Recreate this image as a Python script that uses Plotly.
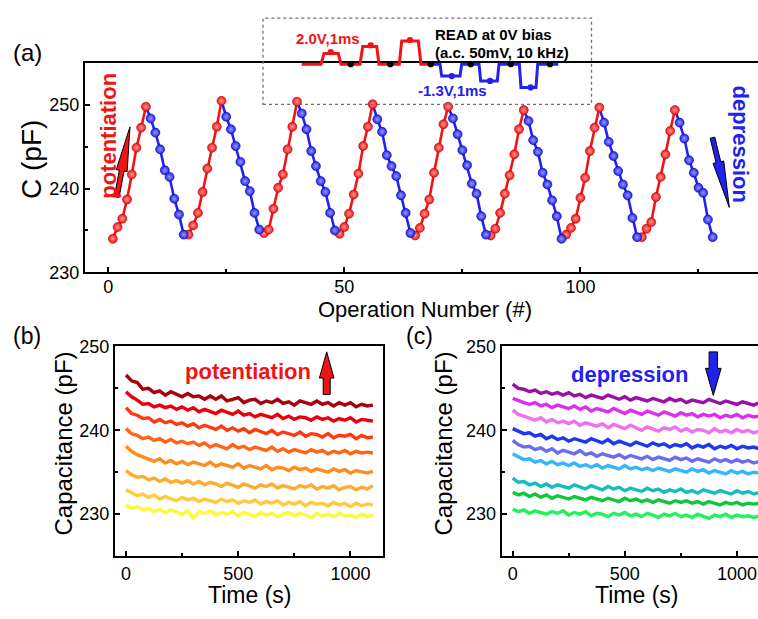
import math
import plotly.graph_objects as go

# ---------------- data: panel (a) ----------------
operation = list(range(1, 129))
capacitance_a = [
    234.0, 235.4, 236.4, 238.7, 241.7, 244.9, 247.3, 249.8,
    248.4, 246.7, 244.7, 242.2, 241.4, 238.8, 236.9, 234.5,
    234.5, 235.6, 237.1, 239.6, 242.4, 244.9, 247.4, 250.5,
    248.6, 247.1, 245.1, 243.2, 240.9, 239.7, 237.1, 235.1,
    234.7, 235.1, 237.6, 240.1, 241.7, 244.7, 247.4, 250.4,
    249.0, 247.1, 244.5, 242.7, 240.9, 239.6, 237.1, 235.0,
    234.6, 235.4, 237.0, 239.3, 241.8, 245.1, 247.4, 250.1,
    248.3, 246.8, 244.0, 242.7, 241.5, 239.2, 237.1, 234.7,
    234.4, 235.3, 237.0, 238.7, 241.9, 244.9, 247.7, 249.8,
    248.4, 246.5, 244.6, 242.8, 240.6, 239.4, 236.7, 234.5,
    234.4, 235.2, 237.1, 239.4, 241.6, 244.1, 247.1, 249.4,
    248.1, 245.8, 244.4, 241.9, 240.5, 238.6, 236.7, 234.0,
    234.5, 235.3, 236.4, 238.9, 241.3, 244.5, 247.3, 249.7,
    247.9, 245.6, 243.9, 242.1, 240.5, 239.2, 236.5, 234.2,
    234.2, 235.2, 236.0, 239.0, 241.4, 244.1, 246.9, 249.4,
    247.9, 246.0, 243.4, 241.9, 240.1, 239.5, 236.3, 234.2,
]
pulses_per_phase = 8

# ---------------- data: panels (b), (c) ----------------
time_s = [0, 25, 50, 75, 100, 125, 150, 175, 200, 225,
          250, 275, 300, 325, 350, 375, 400, 425, 450, 475,
          500, 525, 550, 575, 600, 625, 650, 675, 700, 725,
          750, 775, 800, 825, 850, 875, 900, 925, 950, 975,
          1000, 1025, 1050, 1075, 1100]

pot_1 = [246.6, 245.9, 245.7, 244.9, 245.0, 244.5, 244.7, 244.2, 244.6, 244.3,
         244.0, 244.4, 244.0, 244.1, 243.7, 244.1, 243.7, 244.1, 243.5, 243.7,
         243.9, 243.3, 243.6, 243.7, 243.2, 243.5, 243.3, 243.7, 243.2, 243.4,
         243.0, 243.5, 243.3, 243.1, 243.5, 243.1, 243.3, 242.9, 243.3, 243.0,
         243.3, 242.8, 243.1, 242.9, 243.0]
pot_2 = [244.6, 244.0, 243.6, 243.1, 243.2, 242.8, 243.0, 242.7, 242.9, 242.5,
         242.8, 242.4, 242.7, 242.2, 242.5, 242.3, 242.0, 242.4, 242.1, 241.9,
         242.3, 241.8, 242.0, 241.6, 241.9, 241.7, 241.5, 241.9, 241.4, 241.7,
         241.3, 241.6, 241.5, 241.2, 241.6, 241.3, 241.5, 241.1, 241.4, 241.2,
         241.5, 241.0, 241.3, 241.2, 241.1]
pot_3 = [242.7, 242.0, 241.8, 241.4, 241.5, 241.0, 241.3, 240.9, 241.1, 240.7,
         240.9, 240.5, 240.8, 240.3, 240.6, 240.4, 240.1, 240.5, 240.0, 240.3,
         239.9, 240.2, 239.7, 240.1, 239.8, 239.6, 240.0, 239.5, 239.8, 239.6,
         239.4, 239.8, 239.3, 239.6, 239.5, 239.2, 239.6, 239.1, 239.4, 239.3,
         239.5, 239.0, 239.4, 239.1, 239.2]
pot_4 = [240.2, 239.6, 239.4, 239.0, 239.2, 238.8, 239.0, 238.6, 238.9, 238.5,
         238.7, 238.4, 238.6, 238.2, 238.5, 238.0, 238.3, 238.1, 237.8, 238.3,
         237.9, 238.1, 237.7, 238.0, 237.8, 237.6, 238.0, 237.5, 237.8, 237.4,
         237.7, 237.5, 237.3, 237.7, 237.4, 237.6, 237.2, 237.5, 237.3, 237.6,
         237.2, 237.5, 237.3, 237.4, 237.3]
pot_5 = [238.1, 237.5, 237.1, 236.8, 236.6, 236.3, 236.6, 236.1, 236.4, 236.0,
         236.3, 235.9, 236.2, 236.0, 235.8, 236.2, 235.7, 236.0, 235.8, 235.6,
         236.0, 235.5, 235.8, 235.6, 235.4, 235.8, 235.3, 235.6, 235.5, 235.2,
         235.6, 235.3, 235.5, 235.1, 235.4, 235.2, 235.0, 235.4, 235.1, 235.3,
         234.9, 235.2, 235.0, 234.9, 235.1]
pot_6 = [235.2, 234.7, 234.4, 234.5, 234.1, 234.3, 233.9, 234.2, 233.8, 234.0,
         233.7, 234.0, 233.6, 233.9, 233.5, 233.8, 233.6, 233.3, 233.7, 233.5,
         233.2, 233.6, 233.4, 233.1, 233.5, 233.3, 233.6, 233.1, 233.4, 233.2,
         233.0, 233.4, 233.2, 233.5, 233.0, 233.3, 233.1, 233.4, 232.9, 233.2,
         233.3, 232.9, 233.2, 233.0, 233.4]
pot_7 = [232.9, 232.5, 232.2, 232.4, 232.0, 232.3, 231.8, 232.1, 231.9, 231.6,
         232.0, 231.7, 231.9, 231.5, 231.8, 231.6, 231.4, 231.8, 231.5, 231.7,
         231.3, 231.6, 231.4, 231.7, 231.2, 231.5, 231.3, 231.6, 231.1, 231.4,
         231.2, 231.5, 231.0, 231.4, 231.2, 231.3, 231.0, 231.4, 231.1, 231.3,
         230.9, 231.3, 231.0, 231.2, 231.1]
pot_8 = [231.1, 230.7, 230.9, 230.5, 230.7, 230.3, 230.6, 230.2, 230.5, 230.3,
         230.0, 230.4, 229.5, 230.3, 230.1, 230.4, 229.9, 230.2, 230.0, 230.3,
         229.8, 230.2, 230.0, 229.7, 230.2, 229.9, 230.1, 229.7, 230.0, 230.2,
         229.8, 230.1, 229.9, 229.6, 230.1, 229.8, 230.0, 229.7, 230.1, 229.8,
         229.9, 229.6, 230.0, 229.7, 229.9]

dep_1 = [245.5, 245.0, 244.9, 244.6, 244.8, 244.4, 244.6, 244.3, 244.5, 244.2,
         244.5, 244.1, 244.3, 243.9, 244.2, 244.0, 243.8, 244.2, 243.9, 243.7,
         244.0, 243.6, 243.9, 243.7, 243.5, 243.8, 243.6, 243.4, 243.8, 243.5,
         243.7, 243.3, 243.6, 243.5, 243.3, 243.7, 243.4, 243.2, 243.5, 243.3,
         243.1, 243.4, 243.2, 243.0, 243.3]
dep_2 = [243.8, 243.5, 243.3, 243.1, 243.3, 242.9, 243.1, 242.7, 243.0, 242.8,
         242.6, 242.9, 242.5, 242.8, 242.3, 242.6, 242.4, 242.2, 242.6, 242.3,
         242.0, 242.4, 242.1, 241.9, 242.3, 242.0, 241.8, 242.2, 241.9, 241.7,
         242.1, 241.8, 242.0, 241.6, 241.9, 241.7, 241.9, 241.5, 241.8, 241.6,
         241.9, 241.5, 241.8, 241.6, 241.7]
dep_3 = [242.4, 241.9, 241.7, 241.5, 241.2, 241.5, 241.0, 241.3, 240.9, 241.1,
         240.8, 241.1, 240.6, 240.9, 240.7, 240.5, 240.8, 240.3, 240.7, 240.4,
         240.2, 240.6, 240.3, 240.0, 240.4, 240.2, 239.9, 240.3, 240.1, 240.4,
         239.9, 240.2, 239.8, 240.1, 240.0, 239.7, 240.2, 239.8, 240.0, 239.7,
         240.1, 239.8, 240.0, 239.7, 239.9]
dep_4 = [240.2, 239.9, 239.6, 239.7, 239.3, 239.5, 239.0, 239.3, 238.9, 239.1,
         238.7, 239.0, 238.8, 238.6, 239.0, 238.7, 238.5, 238.9, 238.4, 238.7,
         238.5, 238.2, 238.6, 238.3, 238.1, 238.5, 238.2, 238.4, 238.0, 238.3,
         238.1, 238.4, 237.9, 238.2, 238.0, 238.3, 237.8, 238.1, 237.9, 238.2,
         237.8, 238.1, 237.9, 238.0, 237.8]
dep_5 = [238.8, 238.3, 238.0, 238.1, 237.7, 237.9, 237.5, 237.8, 237.3, 237.6,
         237.4, 237.2, 237.6, 237.1, 237.3, 236.9, 237.2, 237.0, 236.8, 237.1,
         236.7, 237.0, 236.8, 236.6, 236.9, 236.5, 236.8, 236.6, 236.4, 236.8,
         236.5, 236.7, 236.3, 236.6, 236.4, 236.2, 236.6, 236.3, 236.5, 236.2,
         236.5, 236.2, 236.4, 236.1, 236.3]
dep_6 = [237.2, 236.8, 236.5, 236.6, 236.2, 236.4, 236.0, 236.3, 235.9, 236.1,
         235.8, 236.1, 235.7, 235.9, 235.6, 235.9, 235.5, 235.8, 235.6, 235.4,
         235.8, 235.4, 235.6, 235.3, 235.5, 235.2, 235.5, 235.3, 235.1, 235.4,
         235.2, 235.0, 235.4, 235.1, 235.3, 234.9, 235.2, 235.0, 234.8, 235.2,
         234.9, 235.1, 234.8, 235.0, 234.9]
dep_7 = [234.3, 233.8, 233.9, 233.5, 233.7, 233.3, 233.6, 233.2, 233.5, 233.3,
         233.1, 233.5, 233.2, 233.0, 233.4, 233.1, 232.9, 233.3, 233.0, 233.2,
         232.8, 233.1, 232.9, 232.7, 233.1, 232.8, 233.0, 232.6, 232.9, 232.7,
         233.0, 232.6, 232.8, 232.5, 232.9, 232.7, 232.5, 232.8, 232.6, 232.4,
         232.8, 232.5, 232.7, 232.4, 232.6]
dep_8 = [232.6, 232.3, 232.5, 232.1, 232.4, 232.0, 232.3, 231.9, 232.2, 232.0,
         231.8, 232.1, 231.9, 231.7, 232.0, 231.8, 231.6, 231.9, 231.7, 231.5,
         231.9, 231.6, 231.8, 231.5, 231.7, 231.4, 231.7, 231.5, 231.3, 231.6,
         231.4, 231.6, 231.3, 231.5, 231.2, 231.5, 231.3, 231.1, 231.4, 231.2,
         231.4, 231.1, 231.3, 231.2, 231.3]
dep_9 = [230.6, 230.3, 230.5, 230.1, 230.4, 230.2, 230.0, 230.3, 230.1, 230.4,
         229.9, 230.2, 230.0, 230.3, 229.8, 230.1, 230.0, 229.7, 230.1, 229.9,
         230.2, 229.8, 230.0, 229.7, 230.1, 229.9, 229.6, 230.0, 229.8, 230.1,
         229.7, 229.9, 229.6, 230.0, 229.8, 229.5, 229.9, 229.7, 230.0, 229.6,
         229.9, 229.7, 229.8, 229.6, 229.8]

pot_colors = ["#a8000c", "#e8000e", "#ff3a10", "#ff6418", "#ff8c1e", "#ffab2e", "#ffcb3c", "#fbfb3a"]
dep_colors = ["#9a0eaa", "#dd2ef0", "#ec72f0", "#1d38ee", "#6c6cf2", "#34b6fc", "#16bcc0", "#12c63c", "#22f25c"]

RED = "#f01414"
BLUE = "#2222ee"
FONT = "Liberation Sans, Arial, Helvetica, sans-serif"

W, H = 758, 619


def px(x):
    return x / W


def py(y):
    return 1 - y / H


fig = go.Figure()

# ---------------- panel (a) ----------------
is_red = [((n - 1) // pulses_per_phase) % 2 == 0 for n in operation]
red_lx, red_ly, blue_lx, blue_ly = [], [], [], []
i = 0
while i < len(operation):
    j = i
    while j + 1 < len(operation) and is_red[j + 1] == is_red[i]:
        j += 1
    start = max(i - 1, 0)
    xs = operation[start:j + 1]
    ys = capacitance_a[start:j + 1]
    if is_red[i]:
        red_lx += xs + [None]
        red_ly += ys + [None]
    else:
        blue_lx += xs + [None]
        blue_ly += ys + [None]
    i = j + 1

fig.add_trace(go.Scatter(x=red_lx, y=red_ly, mode="lines", line=dict(color=RED, width=2.6),
                         xaxis="x", yaxis="y", hoverinfo="skip"))
fig.add_trace(go.Scatter(x=blue_lx, y=blue_ly, mode="lines", line=dict(color=BLUE, width=2.6),
                         xaxis="x", yaxis="y", hoverinfo="skip"))
fig.add_trace(go.Scatter(
    x=[o for o, r in zip(operation, is_red) if r],
    y=[c for c, r in zip(capacitance_a, is_red) if r],
    mode="markers",
    marker=dict(size=9, color=RED, line=dict(color="#c00000", width=0.6),
                gradient=dict(type="radial", color="#ff9a9a")),
    xaxis="x", yaxis="y"))
fig.add_trace(go.Scatter(
    x=[o for o, r in zip(operation, is_red) if not r],
    y=[c for c, r in zip(capacitance_a, is_red) if not r],
    mode="markers",
    marker=dict(size=9, color=BLUE, line=dict(color="#0000b0", width=0.6),
                gradient=dict(type="radial", color="#9a9aff")),
    xaxis="x", yaxis="y"))

# ---------------- panels (b), (c) ----------------
for vals, col in zip([pot_1, pot_2, pot_3, pot_4, pot_5, pot_6, pot_7, pot_8], pot_colors):
    fig.add_trace(go.Scatter(x=time_s, y=vals, mode="lines", line=dict(color=col, width=3.4),
                             xaxis="x2", yaxis="y2", hoverinfo="skip"))
for vals, col in zip([dep_1, dep_2, dep_3, dep_4, dep_5, dep_6, dep_7, dep_8, dep_9], dep_colors):
    fig.add_trace(go.Scatter(x=time_s, y=vals, mode="lines", line=dict(color=col, width=3.4),
                             xaxis="x3", yaxis="y3", hoverinfo="skip"))

axis_common = dict(showline=True, linecolor="black", linewidth=2, ticks="inside", ticklen=5,
                   tickwidth=2, tickcolor="black", showgrid=False, zeroline=False,
                   tickfont=dict(size=18, color="black", family=FONT), tickmode="linear")


def minor(dt):
    return dict(ticks="inside", ticklen=3, tickwidth=1.5, tickcolor="black", dtick=dt, showgrid=False)


layout = dict(
    width=W, height=H, margin=dict(l=0, r=0, t=0, b=0),
    paper_bgcolor="white", plot_bgcolor="rgba(0,0,0,0)", showlegend=False,
    font=dict(family=FONT, color="black"),
    xaxis=dict(axis_common, domain=[px(85), 1.0], range=[-4.9, 137.6], tick0=0, dtick=50,
               minor=minor(25), mirror=True, anchor="y", ticklabelstandoff=-3),
    yaxis=dict(axis_common, domain=[py(271), py(55)], range=[230, 255], tick0=230, dtick=10,
               minor=minor(5), anchor="x"),
    xaxis2=dict(axis_common, domain=[px(115), px(383)], range=[-49, 1145], tick0=0, dtick=500,
                minor=minor(250), mirror=True, anchor="y2"),
    yaxis2=dict(axis_common, domain=[py(564.3), py(347.7)], range=[225, 250], tick0=230, dtick=10,
                minor=minor(5), mirror=True, anchor="x2"),
    xaxis3=dict(axis_common, domain=[px(501.7), 1.0], range=[-49, 1094], tick0=0, dtick=500,
                minor=minor(250), mirror=True, anchor="y3"),
    yaxis3=dict(axis_common, domain=[py(564.3), py(347.7)], range=[225, 250], tick0=230, dtick=10,
                minor=minor(5), anchor="x3"),
)
fig.update_layout(**layout)

annotations = []


def text(x, y, s, size, color="black", bold=False, angle=0, xanchor="center"):
    if bold:
        s = "<b>" + s + "</b>"
    annotations.append(dict(x=px(x), y=py(y), xref="paper", yref="paper", text=s, showarrow=False,
                            font=dict(size=size, color=color, family=FONT), textangle=angle,
                            xanchor=xanchor, yanchor="middle"))


# panel labels and axis titles
text(27, 44, "(a)", 24)
text(27, 337, "(b)", 23)
text(419, 337, "(c)", 23)
text(425, 310, "Operation Number (#)", 22)
text(32, 155, "C (pF)", 28, angle=-90)
text(249, 605, "Time (s)", 23)
text(636, 605, "Time (s)", 23)
text(64, 448, "Capacitance (pF)", 24, angle=-90)
text(444, 448, "Capacitance (pF)", 24, angle=-90)

# in-plot labels
text(109, 130, "potentiation", 22, RED, True, angle=-90)
text(740, 138, "depression", 22, BLUE, True, angle=90)
text(247.5, 374, "potentiation", 22, RED, True)
text(629, 377, "depression", 22, BLUE, True)

# inset labels
text(327.5, 29.5, "2.0V,1ms", 15, RED, True)
text(433, 25.5, "READ at 0V bias", 15, "black", True, xanchor="left")
text(433, 44, "(a.c. 50mV, 10 kHz)", 15, "black", True, xanchor="left")
text(452, 83.5, "-1.3V,1ms", 15, BLUE, True)

shapes = []


def poly_path(points, close=True):
    s = "M " + " L ".join(f"{px(x):.5f} {py(y):.5f}" for x, y in points)
    return s + (" Z" if close else "")


def arrow(tail, tip, head_len, w_shaft, w_head, color):
    tx, ty = tail
    ex, ey = tip
    dx, dy = ex - tx, ey - ty
    L = math.hypot(dx, dy)
    ux, uy = dx / L, dy / L
    nx, ny = -uy, ux
    hx, hy = ex - ux * head_len, ey - uy * head_len
    pts = [(tx - nx * w_shaft, ty - ny * w_shaft), (tx + nx * w_shaft, ty + ny * w_shaft),
           (hx + nx * w_shaft, hy + ny * w_shaft), (hx + nx * w_head, hy + ny * w_head),
           (ex, ey),
           (hx - nx * w_head, hy - ny * w_head), (hx - nx * w_shaft, hy - ny * w_shaft)]
    shapes.append(dict(type="path", path=poly_path(pts), xref="paper", yref="paper",
                       fillcolor=color, line=dict(color="black", width=1)))


arrow((116.7, 193.3), (130.0, 120.7), 46, 2.4, 5.5, RED)
arrow((712.5, 132.0), (729.3, 204.0), 48, 2.4, 5.5, BLUE)
arrow((326.7, 397.3), (326.7, 353.3), 27, 3.5, 7.3, RED)
arrow((713.3, 353.3), (713.3, 398.3), 28, 4.2, 7.8, BLUE)

# inset: dotted frame and pulse schematic
shapes.append(dict(type="rect", xref="paper", yref="paper", x0=px(263), x1=px(591.5), y0=py(97.5), y1=py(8.3),
                   line=dict(color="#707070", width=1.3, dash="dot"), fillcolor="rgba(0,0,0,0)"))
red_wave = [(301.7, 56), (321, 56), (324, 45), (338.3, 45), (341, 56), (360, 56), (362.7, 37.7),
            (376.7, 37.7), (379, 56), (399.3, 56), (401.7, 32), (418.3, 32), (421, 56), (431.7, 56)]
blue_wave = [(431.7, 56), (440, 56), (441.7, 68.3), (460, 68.3), (461.7, 56), (479, 56), (480.7, 73.3),
             (497.3, 73.3), (499, 56), (519.3, 56), (521, 80), (536, 80), (537.7, 56), (558.3, 56)]
shapes.append(dict(type="path", path=poly_path(red_wave, False), xref="paper", yref="paper",
                   line=dict(color=RED, width=3)))
shapes.append(dict(type="path", path=poly_path(blue_wave, False), xref="paper", yref="paper",
                   line=dict(color=BLUE, width=3)))


def dot(x, y, color, r=3.2):
    shapes.append(dict(type="circle", xref="paper", yref="paper", x0=px(x - r), x1=px(x + r),
                       y0=py(y + r), y1=py(y - r), fillcolor=color, line=dict(width=0)))


for x, y in [(330.7, 43.5), (370.7, 36.5), (410, 31)]:
    dot(x, y, RED)
for x, y in [(451.7, 68.3), (490, 73.3), (530.7, 80)]:
    dot(x, y, BLUE)
for x in [350.7, 390.3, 430.7, 470.7, 510.7, 550]:
    dot(x, 56, "black")

fig.update_layout(annotations=annotations, shapes=shapes)
fig.write_html("out.html")
